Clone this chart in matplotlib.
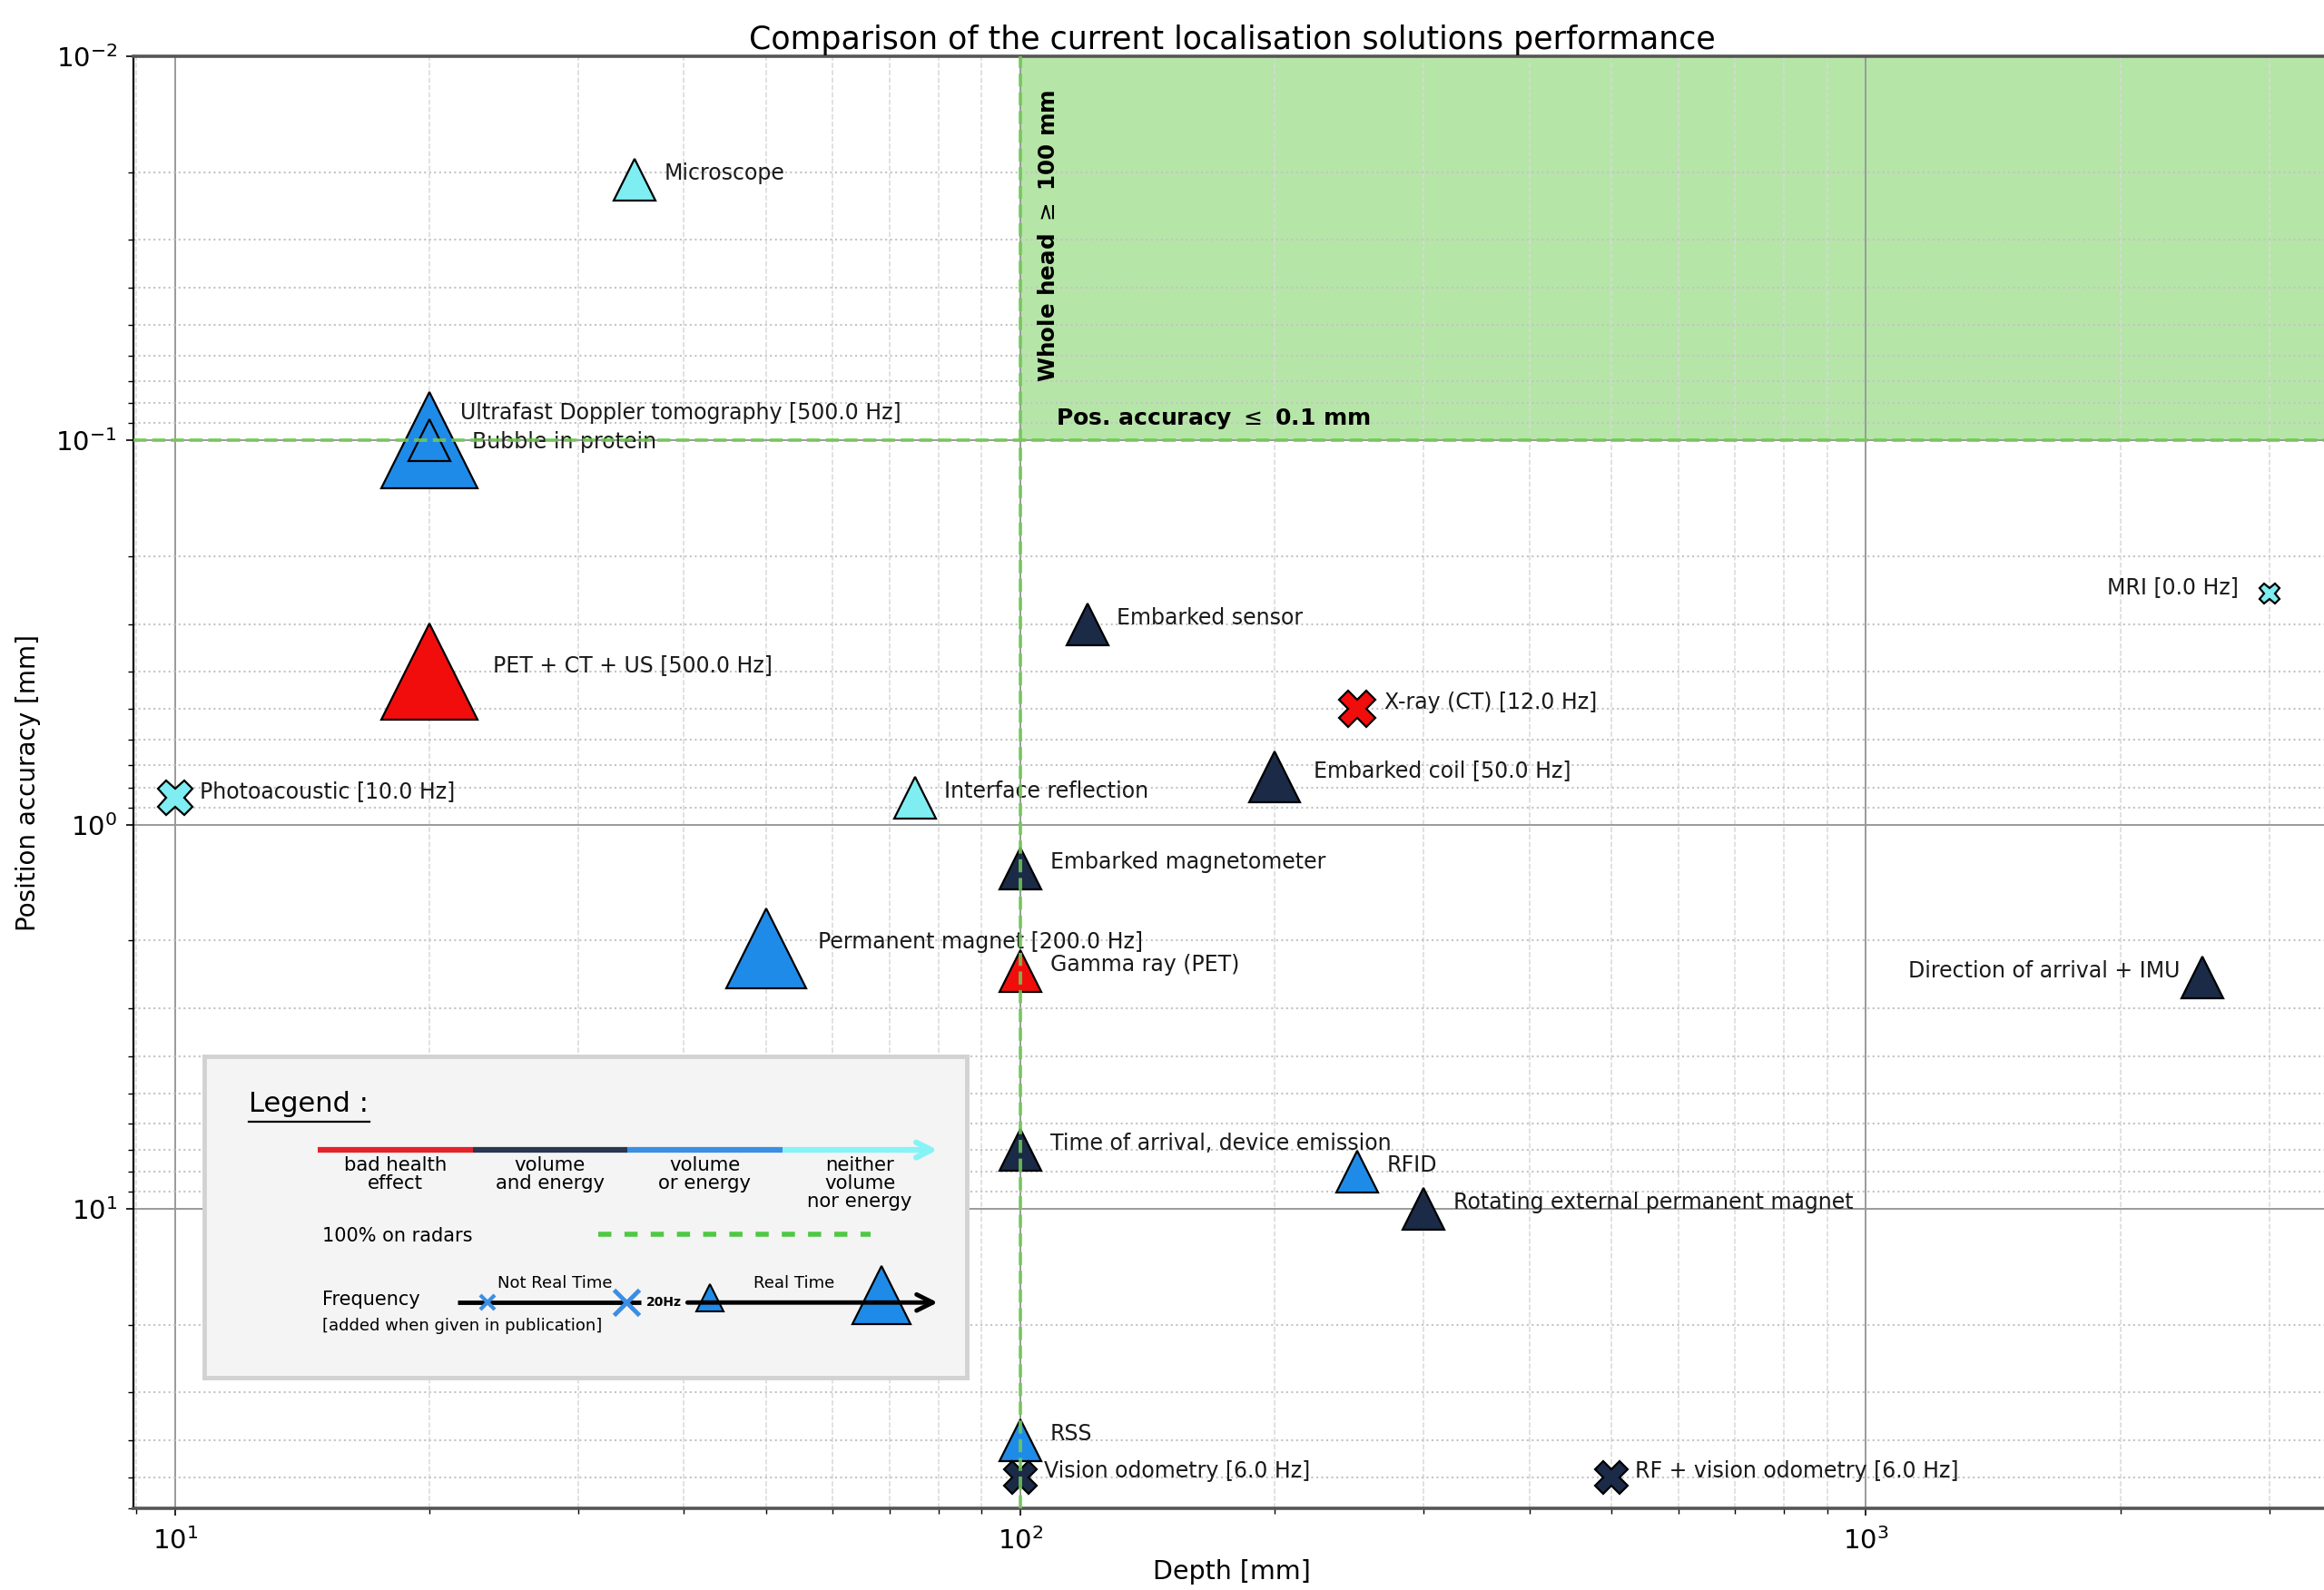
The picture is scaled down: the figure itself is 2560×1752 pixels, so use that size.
import numpy as np
import matplotlib.pyplot as plt

# localisation techniques : depth [mm], position accuracy [mm], frequency [Hz]
labels = ['Microscope', 'Ultrafast Doppler tomography', 'Bubble in protein',
          'PET + CT + US', 'Photoacoustic', 'Interface reflection',
          'Embarked sensor', 'X-ray (CT)', 'Embarked coil', 'MRI',
          'Embarked magnetometer', 'Permanent magnet', 'Gamma ray (PET)',
          'Direction of arrival + IMU', 'Time of arrival, device emission',
          'RFID', 'Rotating external permanent magnet', 'RSS',
          'Vision odometry', 'RF + vision odometry']
depth = [35, 20, 20, 20, 10, 75, 120, 250, 200, 3000,
         100, 50, 100, 2500, 100, 250, 300, 100, 100, 500]
accuracy = [0.021, 0.1, 0.1, 0.4, 0.85, 0.85, 0.3, 0.5, 0.75, 0.25,
            1.3, 2.1, 2.4, 2.5, 7, 8, 10, 40, 50, 50]
frequency = [None, 500, None, 500, 10, None, None, 12, 50, 0,
             None, 200, None, None, None, None, None, None, 6, 6]
category = ['neither', 'or', 'or', 'health', 'neither', 'neither', 'and', 'health', 'and', 'neither',
            'and', 'or', 'health', 'and', 'and', 'or', 'and', 'or', 'and', 'and']

legend_categories = ['health', 'and', 'or', 'neither']
legend_texts = ['bad health\neffect', 'volume\nand energy', 'volume\nor energy', 'neither\nvolume\nnor energy']

colours = {'health': '#f20d0d', 'and': '#1b2a47', 'or': '#1f8be9', 'neither': '#7eeef2'}
bar_colours = {'health': '#e3232b', 'and': '#2b3650', 'or': '#3b8ee3', 'neither': '#86f3f6'}

# label placement tweaks (offset points, alignment)
label_offsets = {
    'Ultrafast Doppler tomography': (24.5, 17, 'left'),
    'Bubble in protein': (34, -6, 'left'),
    'PET + CT + US': (50, 0, 'left'),
    'Photoacoustic': (20, 0, 'left'),
    'X-ray (CT)': (22, 0, 'left'),
    'Embarked coil': (30.5, 0, 'left'),
    'MRI': (-24.5, 0, 'right'),
    'Permanent magnet': (41, 0, 'left'),
    'Direction of arrival + IMU': (-17.5, 0, 'right'),
    'Vision odometry': (18.5, 0, 'left'),
    'RF + vision odometry': (18.5, 0, 'left'),
}


def marker_size(freq):
    if freq is None:
        return 33
    if freq < 20:
        return 16 + 11 * np.log10(1 + freq)
    return 41 + 36 * np.log10(freq / 50)


plt.rcParams['font.family'] = 'DejaVu Sans'

fig = plt.figure(figsize=(25.6, 17.52), dpi=100)
ax = fig.add_axes([0.0574, 0.05126, 0.9456, 0.91333])
ax.set_xscale('log')
ax.set_yscale('log')
ax.set_xlim(8.93, 3548)
ax.set_ylim(60.1, 0.01)

# grid
ax.grid(which='major', color='#9a9a9a', lw=1.4)
ax.xaxis.grid(which='minor', color='#d8d8d8', ls='--', lw=1.1)
ax.yaxis.grid(which='minor', color='#c4c4c4', ls=':', lw=1.5)

# target zone
ax.fill_between([100, 1e5], 0.001, 0.1, color='#64c846', alpha=0.47, lw=0, zorder=1)
ax.axvline(100, color='#72cc55', ls='--', lw=2.8, alpha=0.85, zorder=8)
ax.axhline(0.1, color='#72cc55', ls='--', lw=2.8, alpha=0.85, zorder=8)
ax.text(108, 0.0705, r'Whole head $\geq$ 100 mm', rotation=90, ha='center', va='bottom',
        fontsize=17.7, fontweight='bold', zorder=9)
ax.text(110, 0.088, r'Pos. accuracy $\leq$ 0.1 mm', ha='left', va='center',
        fontsize=18, fontweight='bold', zorder=9)

for name, x, y, f, c in zip(labels, depth, accuracy, frequency, category):
    marker = '^' if f is None or f >= 20 else 'X'
    ax.plot(x, y, marker=marker, ms=marker_size(f), mfc=colours[c], mec='black',
            mew=1.6, ls='none', zorder=5)
    text = name if f is None else f'{name} [{f:.1f} Hz]'
    dx, dy, ha = label_offsets.get(name, (23.5, 0, 'left'))
    ax.annotate(text, (x, y), xytext=(dx, dy), textcoords='offset points',
                ha=ha, va='baseline', fontsize=17, color='#1a1a1a', zorder=6)

ax.set_title('Comparison of the current localisation solutions performance', fontsize=25, pad=6)
ax.set_xlabel('Depth [mm]', fontsize=20.5)
ax.set_ylabel('Position accuracy [mm]', fontsize=20)
ax.xaxis.label.set_va('bottom')
ax.xaxis.set_label_coords(0.5, -0.0525)
ax.yaxis.set_label_coords(-0.042, 0.5)
ax.tick_params(which='major', labelsize=21, length=6, width=1.2)
ax.tick_params(which='minor', length=4, width=1)
ax.tick_params(axis='x', which='major', pad=9)
ax.tick_params(axis='y', which='major', pad=7)

ax.spines['right'].set_visible(False)
for side in ['top', 'bottom']:
    ax.spines[side].set_color('#555555')
    ax.spines[side].set_linewidth(2.6)
ax.spines['left'].set_linewidth(1.6)

# hand drawn legend box
leg = ax.inset_axes([0.0322, 0.0898, 0.347, 0.2214], zorder=10)
leg.set_xlim(138, 655)
leg.set_ylim(930, 713)
leg.set_xticks([])
leg.set_yticks([])
leg.set_facecolor('#f4f4f4')
for s in leg.spines.values():
    s.set_color('#d2d2d2')
    s.set_linewidth(3.5)

leg.text(168, 745, 'Legend :', fontsize=22, va='center', ha='left')
leg.plot([168, 250], [757, 757], color='black', lw=1.6)

edges = [215, 320, 425, 530, 635]
for i, cat in enumerate(legend_categories):
    leg.plot([edges[i], min(edges[i + 1], 626)], [776, 776], color=bar_colours[cat], lw=4.5,
             solid_capstyle='butt')
    leg.text((edges[i] + edges[i + 1]) / 2, 780, legend_texts[i], ha='center', va='top',
             fontsize=15.3, linespacing=1.02)
leg.annotate('', xy=(637, 776), xytext=(610, 776),
             arrowprops=dict(arrowstyle='->', color=bar_colours['neither'], lw=4.5,
                             mutation_scale=30))

leg.text(218, 834, '100% on radars', fontsize=15, va='center', ha='left')
leg.plot([405, 590], [833, 833], color='#4ec843', lw=4, ls=(0, (2.6, 2.6)))

leg.text(218, 877, 'Frequency', fontsize=15, va='center', ha='left')
leg.text(218, 895, '[added when given in publication]', fontsize=13, va='center', ha='left')
leg.plot([310, 434], [879, 879], color='black', lw=3.5, solid_capstyle='butt')
leg.annotate('', xy=(637, 879), xytext=(464, 879),
             arrowprops=dict(arrowstyle='->', color='black', lw=3.5, mutation_scale=32))
leg.text(450, 879, '20Hz', fontsize=10, fontweight='bold', va='center', ha='center')
leg.plot(330, 879, marker='x', ms=11, mew=3, color='#3b8ee3')
leg.plot(424, 879, marker='x', ms=20, mew=3.5, color='#3b8ee3')
leg.plot(481, 876, marker='^', ms=21, mfc='#1f8be9', mec='black', mew=1.5)
leg.plot(597, 874, marker='^', ms=46, mfc='#1f8be9', mec='black', mew=1.6)
leg.text(376, 866, 'Not Real Time', fontsize=13, ha='center', va='center')
leg.text(538, 866, 'Real Time', fontsize=13, ha='center', va='center')

fig.savefig('out.png', dpi=100)
